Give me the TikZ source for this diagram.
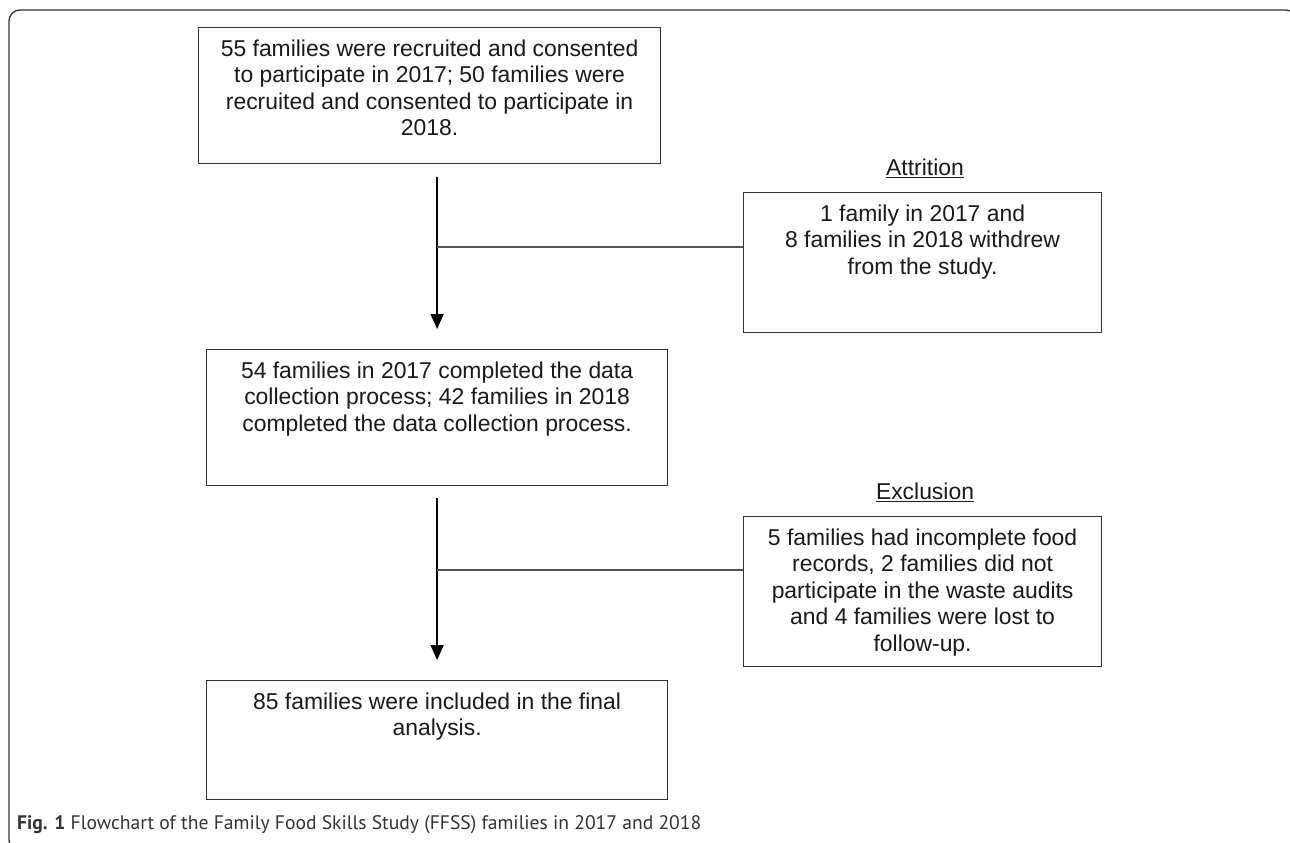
\documentclass[tikz,border=0pt]{standalone}
\usepackage{fontspec}
\setmainfont{Liberation Sans}
\newfontfamily\capfont{PT Sans}
\usetikzlibrary{arrows.meta}
\definecolor{boxcol}{HTML}{333333}
\definecolor{linecol}{HTML}{555555}
\definecolor{txtcol}{HTML}{1A1A1A}
\definecolor{capcol}{HTML}{333333}
\begin{document}
\begin{tikzpicture}[x=1pt,y=-1pt,
  boxnode/.style={draw=boxcol, line width=1.2pt, anchor=north west, inner sep=0pt},
  txt/.style={text=txtcol, font=\fontsize{22.9}{26.5}\selectfont, align=center, inner sep=0pt, anchor=north},
  lbl/.style={text=txtcol, font=\fontsize{22.9}{26.5}\selectfont, inner sep=0pt},
  arr/.style={draw=black, line width=1.8pt, -{Triangle[length=15pt,width=13pt]}},
  conn/.style={draw=linecol, line width=1.2pt}]
\useasboundingbox (0,0) rectangle (1290,843);
\fill[white] (0,0) rectangle (1290,843);
% frame
\draw[draw=boxcol, line width=1.3pt, rounded corners=11pt] (9,10) rectangle (1297,851);
% boxes
\node[boxnode, minimum width=462pt, minimum height=136pt] (b1) at (198,27) {};
\node[boxnode, minimum width=358pt, minimum height=140pt] (b2) at (743,192) {};
\node[boxnode, minimum width=461pt, minimum height=136pt] (b3) at (206,349) {};
\node[boxnode, minimum width=358pt, minimum height=150pt] (b4) at (743,516) {};
\node[boxnode, minimum width=461pt, minimum height=119pt] (b5) at (206,680) {};
% texts
\node[txt] (t1) at ([yshift=-12.5pt]b1.north) {55 families were recruited and consented\\to participate in 2017; 50 families were\\recruited and consented to participate in\\2018.};
\node[txt] (t2) at ([yshift=-12.5pt]b2.north) {1 family in 2017 and\\8 families in 2018 withdrew\\from the study.};
\node[txt] (t3) at ([yshift=-12.5pt]b3.north) {54 families in 2017 completed the data\\collection process; 42 families in 2018\\completed the data collection process.};
\node[txt] (t4) at ([yshift=-12.5pt]b4.north) {5 families had incomplete food\\records, 2 families did not\\participate in the waste audits\\and 4 families were lost to\\follow-up.};
\node[txt] (t5) at ([yshift=-12.5pt]b5.north) {85 families were included in the final\\analysis.};
% labels
\node[lbl] (la) at (925,168) {\underline{Attrition}};
\node[lbl] (le) at (925,492) {\underline{Exclusion}};
% arrows
\coordinate (a1s) at ([yshift=-13pt]b3.north |- b1.south);
\coordinate (a1e) at ([yshift=20pt]b3.north);
\draw[arr] (a1s) -- (a1e);
\coordinate (a2s) at ([yshift=-12pt]b3.south);
\coordinate (a2e) at ([yshift=20pt]b5.north);
\draw[arr] (a2s) -- (a2e);
% side connectors
\coordinate (j1) at (b3.north |- 0,247);
\draw[conn] (j1) -- (b2.west |- j1);
\coordinate (j2) at (b3.north |- 0,570);
\draw[conn] (j2) -- (b4.west |- j2);
% caption
\node[anchor=west, inner sep=0pt, text=capcol, font=\capfont\fontsize{19.6}{22}\selectfont] (cap) at (17,825) {\textbf{Fig. 1} Flowchart of the Family Food Skills Study (FFSS) families in 2017 and 2018};
\end{tikzpicture}
\end{document}
